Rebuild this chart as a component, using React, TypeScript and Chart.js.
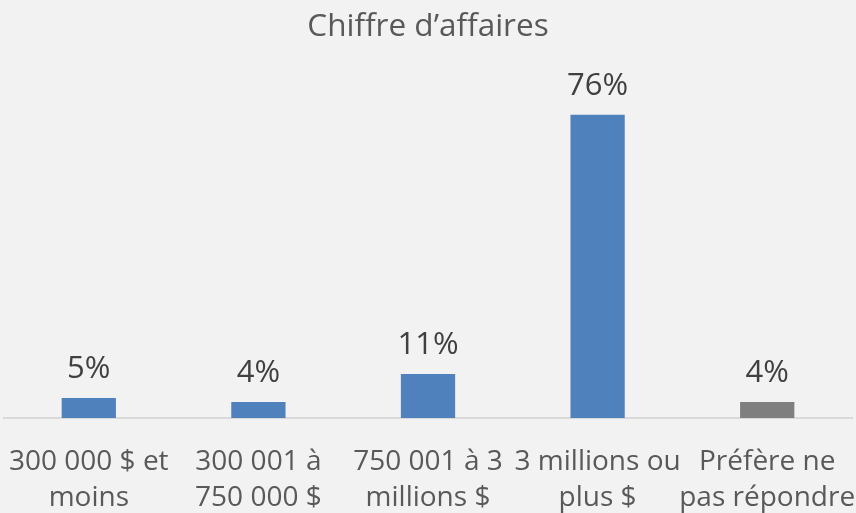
import React, { useEffect, useRef } from "react";
import { Chart, registerables } from "chart.js";

Chart.register(...registerables);

const categories: string[][] = [
  ["300 000 $ et", "moins"],
  ["300 001 à", "750 000 $"],
  ["750 001 à 3", "millions $"],
  ["3 millions ou", "plus $"],
  ["Préfère ne", "pas répondre"],
];
const values: number[] = [5, 4, 11, 76, 4];
const barColors: string[] = ["#4F81BD", "#4F81BD", "#4F81BD", "#4F81BD", "#7F7F7F"];
const titleText = "Chiffre d’affaires";
const FONT = "'Open Sans', sans-serif";

const dataLabels = {
  id: "dataLabels",
  afterDatasetsDraw(chart: any) {
    const ctx = chart.ctx;
    const meta = chart.getDatasetMeta(0);
    ctx.save();
    ctx.font = `31px ${FONT}`;
    ctx.fillStyle = "#404040";
    ctx.textAlign = "center";
    ctx.textBaseline = "alphabetic";
    meta.data.forEach((bar: any, i: number) => {
      ctx.fillText(`${values[i]}%`, bar.x, bar.y - 20);
    });
    ctx.restore();
  },
};

export default function App() {
  const ref = useRef<HTMLCanvasElement>(null);
  useEffect(() => {
    const chart = new Chart(ref.current!, {
      type: "bar",
      data: {
        labels: categories,
        datasets: [
          {
            data: values,
            backgroundColor: barColors,
            borderWidth: 0,
            categoryPercentage: 1,
            barPercentage: 0.32,
          },
        ],
      },
      options: {
        responsive: false,
        animation: false,
        layout: { padding: { left: 4, right: 4, top: 0, bottom: 0 } },
        plugins: {
          legend: { display: false },
          tooltip: { enabled: false },
          title: {
            display: true,
            text: titleText,
            color: "#595959",
            font: { family: FONT, size: 31.5, weight: "normal", lineHeight: 1.2 },
            padding: { top: 8, bottom: 53 },
          },
        },
        scales: {
          x: {
            grid: { display: false, drawTicks: false },
            border: { display: true, color: "#D9D9D9", width: 2 },
            ticks: {
              color: "#595959",
              font: { family: FONT, size: 28, lineHeight: 1.29 },
              padding: 26,
              maxRotation: 0,
              minRotation: 0,
              autoSkip: false,
            },
            afterFit(scale: any) {
              scale.height = 95;
              scale.paddingLeft = 0;
              scale.paddingRight = 0;
            },
          },
          y: {
            display: false,
            min: 0,
            max: 80,
          },
        },
      },
      plugins: [dataLabels],
    });
    return () => chart.destroy();
  }, []);
  return (
    <div style={{ position: "fixed", left: 0, top: 0, width: 856, height: 513, background: "#F2F2F2" }}>
      <canvas ref={ref} width={856} height={513} />
    </div>
  );
}
